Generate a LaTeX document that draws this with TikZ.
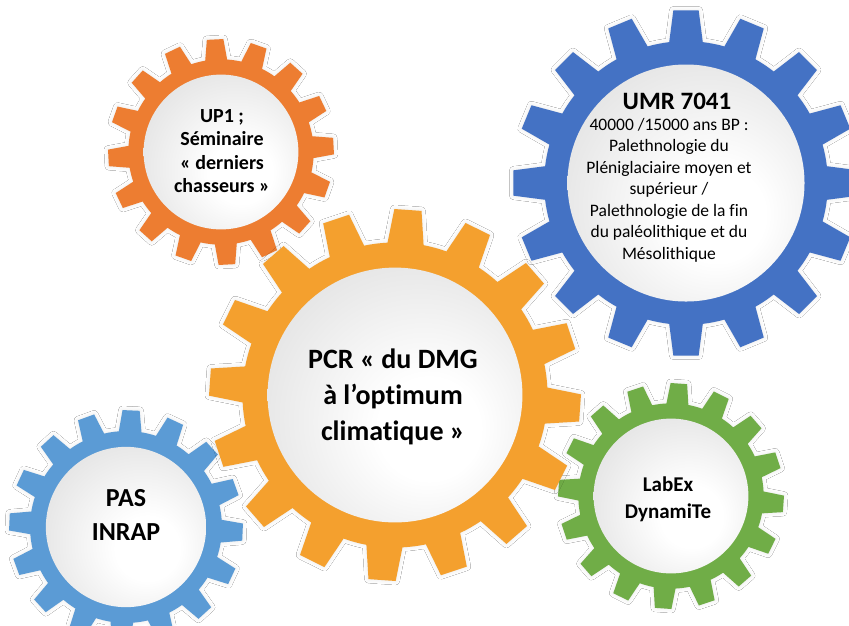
\documentclass[tikz,border=0pt]{standalone}
\usepackage{fontspec}
\setmainfont{Carlito}[Ligatures=NoCommon, Contextuals=NoAlternate]
\usetikzlibrary{shadows.blur}
\definecolor{orgS}{HTML}{ED7D31}
\definecolor{orgB}{HTML}{F4A02E}
\definecolor{bluD}{HTML}{4472C4}
\definecolor{bluL}{HTML}{5B9BD5}
\definecolor{grnG}{HTML}{70AD47}
\pgfdeclareradialshading{diskshade}{\pgfpoint{8bp}{-8bp}}{color(0bp)=(white); color(10bp)=(white); color(40bp)=(black!14); color(62bp)=(black!21)}
\newcommand{\drawgear}[5]{%
 \begin{scope}[shift={(#1,#2)}]
  \pgfmathsetmacro\gT{#3}
  \pgfmathsetmacro\gR{0.82*#3}
  \pgfmathsetmacro\gI{0.685*#3}
  \fill[#5, gearshadow] ({#4-6.8}:\gR) \foreach \i in {0,...,15}{ -- ({#4+22.5*\i-6.8}:\gR) -- ({#4+22.5*\i-4.2}:\gT) -- ({#4+22.5*\i+4.2}:\gT) -- ({#4+22.5*\i+6.8}:\gR) arc[start angle={#4+22.5*\i+6.8}, end angle={#4+22.5*\i+15.7}, radius=\gR]} -- cycle;
  \shade[shading=diskshade] (0,0) circle[radius=\gI];
 \end{scope}}
\begin{document}
\begin{tikzpicture}[x=1pt,y=-1pt,
  gearshadow/.style={blur shadow={shadow xshift=0pt, shadow yshift=0pt, shadow blur radius=4pt, shadow opacity=10}},
  lbl/.style={align=center, text=black, inner sep=0pt}]
\useasboundingbox (0,0) rectangle (849,625);
\clip (0,0) rectangle (849,625);
\fill[white] (0,0) rectangle (849,625);
\drawgear{126}{527}{117}{2.5}{bluL}
\drawgear{221}{152}{113}{19.5}{orgS}
\drawgear{686}{183}{173}{0}{bluD}
\drawgear{671}{496}{113}{4}{grnG}
\drawgear{395}{395}{186}{4}{orgB}
\node[lbl, font=\fontsize{20}{23.5}\selectfont\bfseries] (up1) at (222,151) {UP1 ;\\Séminaire\\« derniers\\chasseurs »};
\node[lbl, font=\fontsize{25}{28}\selectfont\bfseries] (umrt) at (677,101) {UMR 7041};
\node[lbl, font=\fontsize{17.5}{21.5}\selectfont] (umrb) at (669,190) {40000 /15000 ans BP :\\Palethnologie du\\Pléniglaciaire moyen et\\supérieur /\\Palethnologie de la fin\\du paléolithique et du\\Mésolithique};
\node[lbl, font=\fontsize{28}{36}\selectfont\bfseries] (pcr) at (393,397) {PCR « du DMG\\à l’optimum\\climatique »};
\node[lbl, font=\fontsize{26}{34}\selectfont\bfseries] (pas) at (126,515) {PAS\\INRAP};
\node[lbl, font=\fontsize{21}{27}\selectfont\bfseries] (labex) at (668,499) {LabEx\\DynamiTe};
\end{tikzpicture}
\end{document}
